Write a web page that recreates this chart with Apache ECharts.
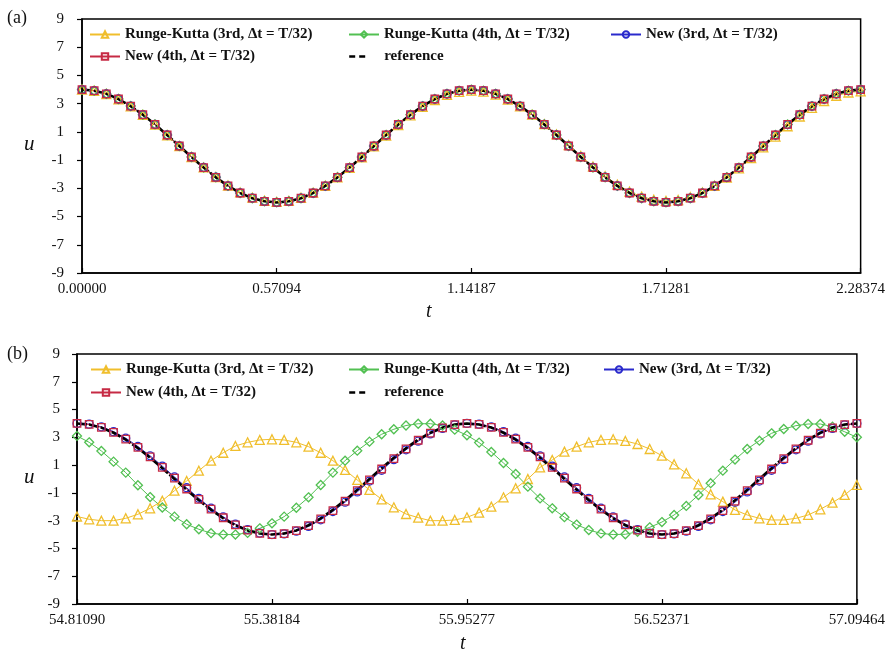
<!DOCTYPE html>
<html>
<head>
<meta charset="utf-8">
<script src="https://cdn.jsdelivr.net/npm/echarts@6/dist/echarts.min.js"></script>
<style>
html,body{margin:0;padding:0;background:#fff;}
#chart{width:888px;height:654px;}
</style>
</head>
<body>
<div id="chart"></div>
<script>
// ---------- tick labels ----------
const xTicksA = ['0.00000', '0.57094', '1.14187', '1.71281', '2.28374'];
const xTicksB = ['54.81090', '55.38184', '55.95277', '56.52371', '57.09464'];
const yMin = -9, yMax = 9, yStep = 2;
const stepsPerTick = 16; // samples between x ticks (Δt = T/32)

const names = {
  rk3: 'Runge-Kutta (3rd, \u0394t = T/32)',
  rk4: 'Runge-Kutta (4th, \u0394t = T/32)',
  new3: 'New (3rd, \u0394t = T/32)',
  new4: 'New (4th, \u0394t = T/32)',
  ref: 'reference'
};

// ---------- panel (a): t = 0 .. 2T ----------
const refA = [4.00,3.92,3.70,3.33,2.83,2.22,1.53,0.78,0.00,-0.78,-1.53,-2.22,-2.83,-3.33,-3.70,-3.92,-4.00,-3.92,-3.70,-3.33,-2.83,-2.22,-1.53,-0.78,0.00,0.78,1.53,2.22,2.83,3.33,3.70,3.92,4.00,3.92,3.70,3.33,2.83,2.22,1.53,0.78,0.00,-0.78,-1.53,-2.22,-2.83,-3.33,-3.70,-3.92,-4.00,-3.92,-3.70,-3.33,-2.83,-2.22,-1.53,-0.78,0.00,0.78,1.53,2.22,2.83,3.33,3.70,3.92,4.00];
const rk3A = [4.00,3.91,3.68,3.31,2.81,2.20,1.51,0.76,-0.01,-0.78,-1.52,-2.20,-2.80,-3.29,-3.66,-3.88,-3.96,-3.89,-3.67,-3.31,-2.82,-2.22,-1.54,-0.80,-0.03,0.74,1.48,2.17,2.77,3.26,3.62,3.84,3.92,3.86,3.64,3.29,2.81,2.22,1.55,0.82,0.06,-0.71,-1.45,-2.14,-2.74,-3.23,-3.59,-3.81,-3.89,-3.83,-3.63,-3.29,-2.82,-2.24,-1.58,-0.86,-0.10,0.66,1.40,2.09,2.70,3.19,3.56,3.79,3.87];
const rk4A = [4.00,3.92,3.70,3.33,2.83,2.22,1.53,0.78,0.00,-0.78,-1.53,-2.22,-2.83,-3.33,-3.70,-3.92,-4.00,-3.92,-3.70,-3.33,-2.83,-2.22,-1.53,-0.78,0.00,0.78,1.53,2.22,2.83,3.33,3.70,3.92,4.00,3.92,3.70,3.33,2.83,2.22,1.53,0.78,0.00,-0.78,-1.53,-2.22,-2.83,-3.33,-3.70,-3.92,-4.00,-3.92,-3.70,-3.33,-2.83,-2.22,-1.53,-0.78,0.00,0.78,1.53,2.22,2.83,3.33,3.70,3.92,4.00];
const new3A = [4.00,3.92,3.70,3.33,2.83,2.22,1.53,0.78,0.01,-0.77,-1.52,-2.21,-2.82,-3.32,-3.69,-3.92,-4.00,-3.92,-3.70,-3.34,-2.84,-2.23,-1.54,-0.79,-0.01,0.77,1.52,2.21,2.82,3.32,3.69,3.92,4.00,3.92,3.70,3.33,2.83,2.22,1.53,0.78,0.01,-0.77,-1.52,-2.21,-2.82,-3.32,-3.69,-3.92,-4.00,-3.92,-3.70,-3.34,-2.84,-2.23,-1.54,-0.79,-0.01,0.77,1.52,2.21,2.82,3.32,3.69,3.92,4.00];
const new4A = [4.00,3.92,3.70,3.33,2.83,2.22,1.53,0.78,0.00,-0.78,-1.53,-2.22,-2.83,-3.33,-3.70,-3.92,-4.00,-3.92,-3.70,-3.33,-2.83,-2.22,-1.53,-0.78,0.00,0.78,1.53,2.22,2.83,3.33,3.70,3.92,4.00,3.92,3.70,3.33,2.83,2.22,1.53,0.78,0.00,-0.78,-1.53,-2.22,-2.83,-3.33,-3.70,-3.92,-4.00,-3.92,-3.70,-3.33,-2.83,-2.22,-1.53,-0.78,0.00,0.78,1.53,2.22,2.83,3.33,3.70,3.92,4.00];

// ---------- panel (b): t = 48T .. 50T ----------
const refB = [4.00,3.92,3.70,3.33,2.83,2.22,1.53,0.78,0.00,-0.78,-1.53,-2.22,-2.83,-3.33,-3.70,-3.92,-4.00,-3.92,-3.70,-3.33,-2.83,-2.22,-1.53,-0.78,0.00,0.78,1.53,2.22,2.83,3.33,3.70,3.92,4.00,3.92,3.70,3.33,2.83,2.22,1.53,0.78,0.00,-0.78,-1.53,-2.22,-2.83,-3.33,-3.70,-3.92,-4.00,-3.92,-3.70,-3.33,-2.83,-2.22,-1.53,-0.78,0.00,0.78,1.53,2.22,2.83,3.33,3.70,3.92,4.00];
const rk3B = [-2.70,-2.90,-3.00,-3.00,-2.83,-2.54,-2.11,-1.56,-0.84,-0.14,0.60,1.32,1.89,2.38,2.64,2.81,2.86,2.81,2.64,2.33,1.89,1.32,0.65,-0.07,-0.79,-1.46,-2.04,-2.52,-2.78,-3.00,-3.00,-2.95,-2.76,-2.42,-1.99,-1.32,-0.67,0.00,0.84,1.37,1.97,2.33,2.64,2.81,2.86,2.74,2.52,2.16,1.68,1.06,0.41,-0.38,-1.10,-1.63,-2.23,-2.59,-2.83,-2.95,-2.95,-2.83,-2.59,-2.18,-1.70,-1.15,-0.43];
const rk4B = [3.10,2.64,2.02,1.25,0.46,-0.45,-1.30,-2.05,-2.71,-3.26,-3.62,-3.90,-4.00,-4.00,-3.88,-3.55,-3.19,-2.71,-2.07,-1.32,-0.43,0.46,1.32,2.04,2.69,3.22,3.58,3.85,3.98,3.98,3.85,3.55,3.15,2.62,1.95,1.15,0.36,-0.55,-1.40,-2.11,-2.75,-3.28,-3.67,-3.92,-4.00,-3.98,-3.80,-3.48,-3.10,-2.59,-1.94,-1.15,-0.30,0.60,1.40,2.16,2.76,3.29,3.60,3.84,3.96,3.96,3.77,3.40,3.00];
const new3B = [4.00,3.95,3.76,3.41,2.94,2.34,1.67,0.93,0.15,-0.63,-1.39,-2.10,-2.72,-3.25,-3.64,-3.89,-4.00,-3.95,-3.76,-3.41,-2.94,-2.34,-1.67,-0.93,-0.15,0.63,1.39,2.10,2.72,3.25,3.64,3.89,4.00,3.95,3.76,3.41,2.94,2.34,1.67,0.93,0.15,-0.63,-1.39,-2.10,-2.72,-3.25,-3.64,-3.89,-4.00,-3.95,-3.76,-3.41,-2.94,-2.34,-1.67,-0.93,-0.15,0.63,1.39,2.10,2.72,3.25,3.64,3.89,4.00];
const new4B = [4.00,3.93,3.72,3.36,2.87,2.27,1.59,0.84,0.06,-0.72,-1.47,-2.17,-2.79,-3.30,-3.68,-3.91,-4.00,-3.93,-3.72,-3.36,-2.87,-2.27,-1.59,-0.84,-0.06,0.72,1.47,2.17,2.79,3.30,3.68,3.91,4.00,3.93,3.72,3.36,2.87,2.27,1.59,0.84,0.06,-0.72,-1.47,-2.17,-2.79,-3.30,-3.68,-3.91,-4.00,-3.93,-3.72,-3.36,-2.87,-2.27,-1.59,-0.84,-0.06,0.72,1.47,2.17,2.79,3.30,3.68,3.91,4.00];

// ---------- styling ----------
const colors = { rk3: '#F0BE2C', rk4: '#52C052', new3: '#2A2ACC', new4: '#C62A44', ref: '#000000' };
const SERIF = '"Liberation Serif", "DejaVu Serif", serif';

function pts(arr) { return arr.map((v, i) => [i, v]); }

function markerSeries(key, arr, gi, symbol, size) {
  return {
    type: 'line', name: names[key], xAxisIndex: gi, yAxisIndex: gi,
    data: pts(arr), symbol: symbol, symbolSize: size,
    lineStyle: { color: colors[key], width: 1 },
    itemStyle: { color: 'rgba(255,255,255,0)', borderColor: colors[key], borderWidth: 1.3 },
    emphasis: { disabled: true }, animation: false
  };
}
function refSeries(arr, gi) {
  return {
    type: 'line', name: names.ref, xAxisIndex: gi, yAxisIndex: gi,
    data: pts(arr), symbol: 'none',
    lineStyle: { color: '#000', width: 2.6, type: [10, 2] },
    itemStyle: { color: '#000' },
    emphasis: { disabled: true }, animation: false
  };
}
function panelSeries(gi, d) {
  return [
    markerSeries('rk3', d.rk3, gi, 'triangle', 9),
    markerSeries('rk4', d.rk4, gi, 'diamond', 9),
    markerSeries('new3', d.new3, gi, 'circle', 8),
    markerSeries('new4', d.new4, gi, 'rect', 7.5),
    refSeries(d.ref, gi)
  ];
}

function xAxisCfg(gi, ticks) {
  return {
    type: 'value', gridIndex: gi, min: 0, max: (ticks.length - 1) * stepsPerTick, interval: stepsPerTick,
    axisLine: { show: true, onZero: false, lineStyle: { color: '#000', width: 1.5 } },
    axisTick: { show: true, inside: true, length: 5, lineStyle: { color: '#000', width: 1.2 } },
    splitLine: { show: false },
    axisLabel: {
      show: true, margin: 9, color: '#111', fontFamily: SERIF, fontSize: 15,
      showMinLabel: true, showMaxLabel: true,
      formatter: v => ticks[Math.round(v / stepsPerTick)]
    }
  };
}
function yAxisCfg(gi, margin) {
  return {
    type: 'value', gridIndex: gi, min: yMin, max: yMax, interval: yStep,
    axisLine: { show: true, onZero: false, lineStyle: { color: '#000', width: 1.5 } },
    axisTick: { show: true, inside: false, length: 5, lineStyle: { color: '#000', width: 1.2 } },
    splitLine: { show: false },
    axisLabel: { show: true, margin: margin, color: '#111', fontFamily: SERIF, fontSize: 15, showMinLabel: true, showMaxLabel: true }
  };
}

function legendCfg(key, left, top, extra) {
  const item = Object.assign({ name: names[key] }, extra || {});
  return {
    data: [item], left: left, top: top, orient: 'horizontal',
    itemWidth: 30, itemHeight: 8, itemGap: 0, padding: 0, selectedMode: false,
    textStyle: { fontFamily: SERIF, fontWeight: 'bold', fontSize: 15, color: '#111' }
  };
}
const refLegendStyle = {
  lineStyle: { type: [6, 4, 6, 100], width: 2.4, color: '#000' },
  itemStyle: { opacity: 0 }
};

const option = {
  backgroundColor: '#fff',
  animation: false,
  grid: [
    { left: 82, top: 19, width: 779, height: 254, show: true, borderColor: '#000', borderWidth: 1.5, backgroundColor: 'transparent' },
    { left: 77, top: 354, width: 780, height: 250, show: true, borderColor: '#000', borderWidth: 1.5, backgroundColor: 'transparent' }
  ],
  xAxis: [xAxisCfg(0, xTicksA), xAxisCfg(1, xTicksB)],
  yAxis: [yAxisCfg(0, 18), yAxisCfg(1, 17)],
  legend: [
    legendCfg('rk3', 89, 27), legendCfg('rk4', 348, 27), legendCfg('new3', 610, 27),
    legendCfg('new4', 89, 49), legendCfg('ref', 348, 49, refLegendStyle),
    legendCfg('rk3', 90, 362), legendCfg('rk4', 348, 362), legendCfg('new3', 603, 362),
    legendCfg('new4', 90, 385), legendCfg('ref', 348, 385, refLegendStyle)
  ],
  graphic: [
    { type: 'text', left: 7, top: 9, style: { text: '(a)', font: '18px ' + SERIF, fill: '#111' } },
    { type: 'text', left: 7, top: 345, style: { text: '(b)', font: '18px ' + SERIF, fill: '#111' } },
    { type: 'text', left: 24, top: 134, style: { text: 'u', font: 'italic 21px ' + SERIF, fill: '#111' } },
    { type: 'text', left: 24, top: 467, style: { text: 'u', font: 'italic 21px ' + SERIF, fill: '#111' } },
    { type: 'text', left: 426, top: 302, style: { text: 't', font: 'italic 20px ' + SERIF, fill: '#111' } },
    { type: 'text', left: 460, top: 634, style: { text: 't', font: 'italic 20px ' + SERIF, fill: '#111' } }
  ],
  series: [].concat(
    panelSeries(0, { rk3: rk3A, rk4: rk4A, new3: new3A, new4: new4A, ref: refA }),
    panelSeries(1, { rk3: rk3B, rk4: rk4B, new3: new3B, new4: new4B, ref: refB })
  )
};

const chart = echarts.init(document.getElementById('chart'), null, { renderer: 'canvas' });
chart.setOption(option);
</script>
</body>
</html>
